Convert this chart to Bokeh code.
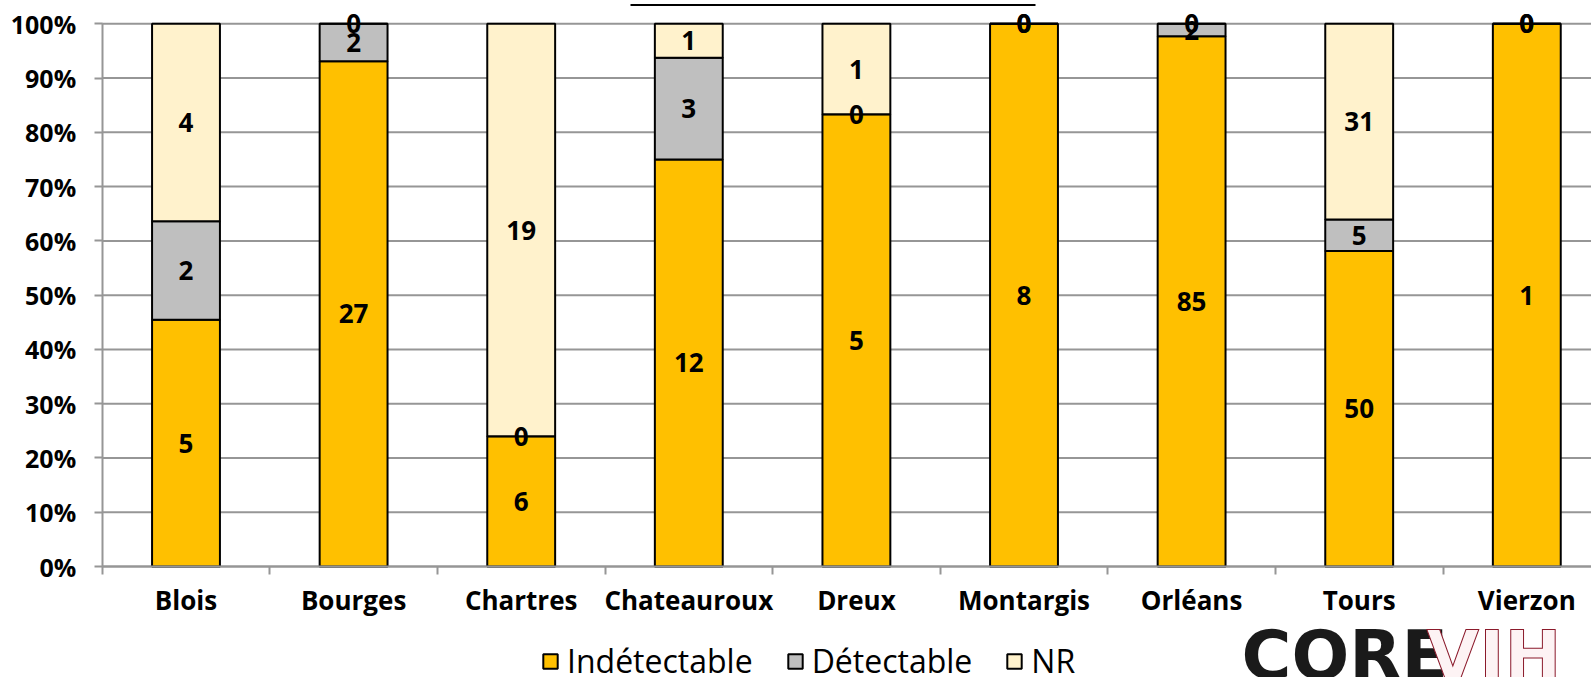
from bokeh.plotting import figure
from bokeh.models import (ColumnDataSource, Range1d, FixedTicker, NumeralTickFormatter,
                          LabelSet, Legend, LegendItem, Label)
from bokeh.core.properties import value
from bokeh.embed import file_html
from bokeh.resources import INLINE

cities = ["Blois", "Bourges", "Chartres", "Chateauroux", "Dreux", "Montargis", "Orléans", "Tours", "Vierzon"]
indetectable = [5, 27, 6, 12, 5, 8, 85, 50, 1]
detectable = [2, 2, 0, 3, 0, 0, 2, 5, 0]
nr = [4, 0, 19, 1, 1, 0, 0, 31, 0]
series_names = ["Indétectable", "Détectable", "NR"]
colors = ["#FFC000", "#BFBFBF", "#FFF2CC"]
y_ticks = [i / 10 for i in range(11)]

n = len(cities)
xs = [i + 0.5 for i in range(n)]
tot = [a + b + c for a, b, c in zip(indetectable, detectable, nr)]
p_ind = [a / t for a, t in zip(indetectable, tot)]
p_det = [b / t for b, t in zip(detectable, tot)]
p_nr = [c / t for c, t in zip(nr, tot)]

src = ColumnDataSource(dict(x=xs, ind=p_ind, det=p_det, nr=p_nr))

W, H = 1591, 677
AX_X, BAND = 101.7, 167.6       # pixel of x=0, pixels per category
TOP_Y, BOT_Y = 23.3, 566.0       # pixels of 100% and 0%
UNIT = BOT_Y - TOP_Y

def px_x(px):
    return (px - AX_X) / BAND

def px_y(py):
    return (BOT_Y - py) / UNIT

p = figure(width=W, height=H, output_backend="svg", toolbar_location=None,
           x_range=Range1d(px_x(0), px_x(W)), y_range=Range1d(px_y(H), px_y(0)),
           min_border_left=0, min_border_right=0, min_border_top=0, min_border_bottom=0)
p.outline_line_color = None
p.background_fill_color = "white"
p.xgrid.grid_line_color = None
p.ygrid.grid_line_color = None

grid_col = "#969696"
# horizontal gridlines from the axis to the right edge
p.segment(x0=[0] * len(y_ticks), x1=[px_x(W)] * len(y_ticks), y0=y_ticks, y1=y_ticks,
          line_color=grid_col, line_width=2, level="underlay")

# underline of the (cropped) title at the very top
p.segment(x0=[px_x(630)], x1=[px_x(1035)], y0=[px_y(4.5)], y1=[px_y(4.5)],
          line_color="black", line_width=2)

rs = p.vbar_stack(["ind", "det", "nr"], x="x", width=0.405, source=src,
                  fill_color=colors, line_color="black", line_width=2)

# data labels
lx, ly, lt = [], [], []
for i in range(n):
    base = 0.0
    for cnt, frac in zip([indetectable[i], detectable[i], nr[i]], [p_ind[i], p_det[i], p_nr[i]]):
        lx.append(xs[i]); ly.append(base + frac / 2); lt.append(str(cnt))
        base += frac
lsrc = ColumnDataSource(dict(x=lx, y=ly, t=lt))
p.add_layout(LabelSet(x="x", y="y", text="t", source=lsrc, text_align="center",
                      text_baseline="middle", text_font=value("Open Sans"), text_font_style="bold",
                      text_font_size="26px", text_color="black"))

# y axis
p.yaxis.fixed_location = 0
p.yaxis.bounds = (0, 1)
p.yaxis.ticker = FixedTicker(ticks=y_ticks)
p.yaxis.formatter = NumeralTickFormatter(format="0%")
p.yaxis.axis_line_color = grid_col
p.yaxis.axis_line_width = 2
p.yaxis.major_tick_line_color = grid_col
p.yaxis.major_tick_line_width = 2
p.yaxis.major_tick_out = 8
p.yaxis.major_tick_in = 0
p.yaxis.minor_tick_line_color = None
p.yaxis.major_label_standoff = 18
p.yaxis.major_label_text_font = "Open Sans"
p.yaxis.major_label_text_font_style = "bold"
p.yaxis.major_label_text_font_size = "25px"
p.yaxis.major_label_text_color = "black"

# x axis
p.xaxis.fixed_location = 0
p.xaxis.bounds = (0, n)
p.xaxis.ticker = FixedTicker(ticks=xs, minor_ticks=list(range(n + 1)))
p.xaxis.major_label_overrides = {x: c for x, c in zip(xs, cities)}
p.xaxis.axis_line_color = grid_col
p.xaxis.axis_line_width = 2
p.xaxis.major_tick_line_color = None
p.xaxis.major_tick_out = 0
p.xaxis.major_tick_in = 0
p.xaxis.minor_tick_line_color = grid_col
p.xaxis.minor_tick_line_width = 2
p.xaxis.minor_tick_out = 8
p.xaxis.minor_tick_in = 0
p.xaxis.major_label_standoff = 7
p.xaxis.major_label_text_font = "Open Sans"
p.xaxis.major_label_text_font_style = "bold"
p.xaxis.major_label_text_font_size = "26px"
p.xaxis.major_label_text_color = "black"

legend = Legend(items=[LegendItem(label=nm, renderers=[r]) for nm, r in zip(series_names, rs)],
                location=(541, -5), orientation="horizontal", padding=0, margin=0,
                spacing=33, glyph_width=18, glyph_height=18, label_standoff=8,
                label_text_font="Open Sans", label_text_font_size="32px",
                label_text_color="black", border_line_color=None,
                background_fill_alpha=0)
p.add_layout(legend, "center")

# logo at the bottom-right, as in the original
p.add_layout(Label(x=1241, y=22, x_units="screen", y_units="screen", text="CORE",
                   text_font="DejaVu Sans", text_font_style="bold", text_font_size="68px",
                   text_color="#1a1a1a", text_baseline="alphabetic", text_align="left"))
p.add_layout(Label(x=1426, y=22, x_units="screen", y_units="screen", text="VIH",
                   text_font="DejaVu Sans", text_font_style="bold", text_font_size="68px",
                   text_color="#fdf3f4", text_outline_color="#8b1a2b",
                   text_baseline="alphabetic", text_align="left"))

open("out.html", "w").write(file_html(p, INLINE))
